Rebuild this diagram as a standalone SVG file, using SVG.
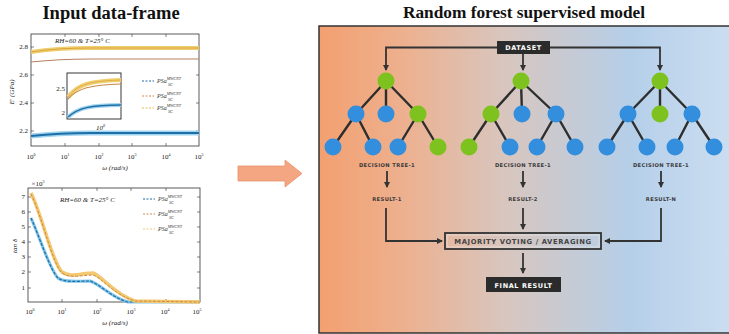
<svg xmlns="http://www.w3.org/2000/svg" width="729" height="334" viewBox="0 0 729 334">
<style>
.title{font-family:"Liberation Serif",serif;font-weight:bold;font-size:17.3px;fill:#111;text-anchor:middle}
.ax{fill:none;stroke:#333;stroke-width:0.8}
.tk{font-family:"Liberation Serif",serif;font-size:7px;fill:#222;text-anchor:middle}
.tky{font-family:"Liberation Serif",serif;font-size:7px;fill:#222;text-anchor:end}
.it{font-family:"Liberation Serif",serif;font-style:italic;font-size:7px;fill:#222}
.lg{font-family:"Liberation Serif",serif;font-style:italic;font-size:6px;fill:#333}
.sm{font-size:4px}
.edge{stroke:#2e2e2e;stroke-width:2.4;fill:none}
.g{fill:#7DC21E}
.b{fill:#338FDD}
.lbl{font-family:"DejaVu Sans",sans-serif;font-weight:bold;font-size:5.2px;fill:#3a3a3a;text-anchor:middle;letter-spacing:0.4px}
.conn{stroke:#333;stroke-width:1.8;fill:none}
.dark{fill:#2b2b2b}
.wt{font-family:"DejaVu Sans",sans-serif;font-weight:bold;font-size:6.5px;fill:#fff;text-anchor:middle;letter-spacing:0.6px}
</style>
<defs>
<linearGradient id="bg" x1="0" x2="1" y1="0" y2="0">
<stop offset="0" stop-color="#F3A070"/>
<stop offset="0.2" stop-color="#EDB08E"/>
<stop offset="0.45" stop-color="#D8C6BF"/>
<stop offset="0.75" stop-color="#B5CFE9"/>
<stop offset="1" stop-color="#CCDEF1"/>
</linearGradient>
<marker id="ah" markerWidth="6" markerHeight="6" refX="5" refY="3" orient="auto" markerUnits="userSpaceOnUse"><path d="M0,0 L6,3 L0,6 z" fill="#333"/></marker>
</defs>
<rect width="729" height="334" fill="#fff"/>

<!-- Left panel -->
<g id="input-dataframe">
<text class="title" x="111" y="19" style="font-size:18.5px">Input data-frame</text>
<!-- top plot -->
<g id="plot-top">
<rect class="ax" x="31" y="34" width="168" height="112"/>
<g stroke="#333" stroke-width="0.6">
<path d="M65 146v-3M99 146v-3M132 146v-3M166 146v-3M65 34v3M99 34v3M132 34v3M166 34v3M31 47h3M31 75h3M31 103h3M31 131h3M199 47h-3M199 75h-3M199 103h-3M199 131h-3"/>
</g>
<text class="tky" x="28" y="49">2.8</text>
<text class="tky" x="28" y="77">2.6</text>
<text class="tky" x="28" y="105">2.4</text>
<text class="tky" x="28" y="133">2.2</text>
<text class="tk" x="31" y="159">10<tspan class="sm" dy="-3">0</tspan></text>
<text class="tk" x="65" y="159">10<tspan class="sm" dy="-3">1</tspan></text>
<text class="tk" x="99" y="159">10<tspan class="sm" dy="-3">2</tspan></text>
<text class="tk" x="132" y="159">10<tspan class="sm" dy="-3">3</tspan></text>
<text class="tk" x="166" y="159">10<tspan class="sm" dy="-3">4</tspan></text>
<text class="tk" x="199" y="159">10<tspan class="sm" dy="-3">5</tspan></text>
<text class="it" x="115" y="170" text-anchor="middle">ω (rad/s)</text>
<text class="it" transform="translate(14 92) rotate(-90)" text-anchor="middle">E' (GPa)</text>
<text class="it" x="55" y="43">RH=60 &amp; T=25° C</text>
<path d="M31 52 C50 49 70 48 90 48 L199 48" stroke="#F0CF70" stroke-width="4" fill="none"/>
<path d="M31 52 C50 49 70 48 90 48 L199 48" stroke="#D9A43A" stroke-width="1" fill="none"/>
<path d="M31 62 C50 60 70 59 90 59 L199 59" stroke="#B88060" stroke-width="1.2" fill="none"/>
<path d="M31 136 C50 134 70 133 90 133 L199 133" stroke="#9FD3EE" stroke-width="5" fill="none"/>
<path d="M31 136 C50 134 70 133 90 133 L199 133" stroke="#1E6FA8" stroke-width="1.8" fill="none"/>
<text class="it" x="96" y="130">10<tspan class="sm" dy="-3">0</tspan></text>
<!-- inset -->
<rect x="67" y="73" width="54" height="46" fill="#fff" stroke="#222" stroke-width="0.9"/>
<text class="tky" x="65" y="91">2.5</text>
<text class="tky" x="65" y="115">2</text>
<path d="M68 97 C78 84 90 81 121 80" stroke="#F0CF70" stroke-width="4" fill="none"/>
<path d="M68 97 C78 84 90 81 121 80" stroke="#D9A43A" stroke-width="0.8" fill="none"/>
<path d="M68 99 C78 88 90 85 121 84" stroke="#C98848" stroke-width="1.2" fill="none"/>
<path d="M68 117 C78 108 90 105 121 105" stroke="#9FD3EE" stroke-width="4" fill="none"/>
<path d="M68 117 C78 108 90 105 121 105" stroke="#1E6FA8" stroke-width="1.5" fill="none"/>
<!-- legend -->
<path d="M142 81h12" stroke="#1E6FA8" stroke-width="1" stroke-dasharray="2 1.5"/>
<text class="lg" x="157" y="83">PSa<tspan class="sm" dy="-3.5">MWCNT</tspan><tspan class="sm" dx="-13" dy="6">SC</tspan></text>
<path d="M142 96h12" stroke="#D08A50" stroke-width="1" stroke-dasharray="2 1.5"/>
<text class="lg" x="157" y="98">PSa<tspan class="sm" dy="-3.5">MWCNT</tspan><tspan class="sm" dx="-13" dy="6">SC</tspan></text>
<path d="M142 108h12" stroke="#E0BE50" stroke-width="1" stroke-dasharray="2 1.5"/>
<text class="lg" x="157" y="110">PSa<tspan class="sm" dy="-3.5">MWCNT</tspan><tspan class="sm" dx="-13" dy="6">SC</tspan></text>
</g>

<!-- bottom plot -->
<g id="plot-bottom">
<rect class="ax" x="28" y="188" width="172" height="114"/>
<g stroke="#333" stroke-width="0.6">
<path d="M62 302v-3M97 302v-3M131 302v-3M166 302v-3M62 188v3M97 188v3M131 188v3M166 188v3M28 197h3M28 212h3M28 227h3M28 242h3M28 257h3M28 272h3M28 288h3M200 197h-3M200 212h-3M200 227h-3M200 242h-3M200 257h-3M200 272h-3M200 288h-3"/>
</g>
<text class="tky" x="25" y="199">7</text>
<text class="tky" x="25" y="214">6</text>
<text class="tky" x="25" y="229">5</text>
<text class="tky" x="25" y="244">4</text>
<text class="tky" x="25" y="259">3</text>
<text class="tky" x="25" y="274">2</text>
<text class="tky" x="25" y="290">1</text>
<text class="tk" x="38" y="186">×10<tspan class="sm" dy="-3">3</tspan></text>
<text class="tk" x="30" y="314">10<tspan class="sm" dy="-3">0</tspan></text>
<text class="tk" x="62" y="314">10<tspan class="sm" dy="-3">1</tspan></text>
<text class="tk" x="97" y="314">10<tspan class="sm" dy="-3">2</tspan></text>
<text class="tk" x="131" y="314">10<tspan class="sm" dy="-3">3</tspan></text>
<text class="tk" x="165" y="314">10<tspan class="sm" dy="-3">4</tspan></text>
<text class="tk" x="197" y="314">10<tspan class="sm" dy="-3">5</tspan></text>
<text class="it" x="115" y="325" text-anchor="middle">ω (rad/s)</text>
<text class="it" transform="translate(17 246) rotate(-90)" text-anchor="middle">tan δ</text>
<text class="it" x="60" y="202">RH=60 &amp; T=25° C</text>
<!-- curves -->
<path d="M31 218 C40 238 50 270 58 278 C64 283 80 281 90 281 C100 284 112 298 128 302 L200 302" stroke="#7EC3E8" stroke-width="3" fill="none"/>
<path d="M31 218 C40 238 50 270 58 278 C64 283 80 281 90 281 C100 284 112 298 128 302 L200 302" stroke="#1E6FA8" stroke-width="1.2" fill="none" stroke-dasharray="3 1.5"/>
<path d="M31 193 C42 215 52 262 62 272 C70 278 82 273 93 273 C102 276 114 294 135 301 L200 302" stroke="#F3C870" stroke-width="3.5" fill="none"/>
<path d="M31 194 C42 216 52 263 62 273 C70 279 82 275 93 275 C102 278 114 295 135 301 L200 302" stroke="#D08A40" stroke-width="1" fill="none" stroke-dasharray="3 1.5"/>
<!-- legend -->
<path d="M143 199h12" stroke="#1E6FA8" stroke-width="1" stroke-dasharray="2 1.5"/>
<text class="lg" x="158" y="201">PSa<tspan class="sm" dy="-3.5">MWCNT</tspan><tspan class="sm" dx="-13" dy="6">SC</tspan></text>
<path d="M143 214h12" stroke="#D08A50" stroke-width="1" stroke-dasharray="2 1.5"/>
<text class="lg" x="158" y="216">PSa<tspan class="sm" dy="-3.5">MWCNT</tspan><tspan class="sm" dx="-13" dy="6">SC</tspan></text>
<path d="M143 229h12" stroke="#E8D070" stroke-width="1" stroke-dasharray="2 1.5"/>
<text class="lg" x="158" y="231">PSa<tspan class="sm" dy="-3.5">MWCNT</tspan><tspan class="sm" dx="-13" dy="6">SC</tspan></text>
</g>
</g>

<!-- big arrow -->
<g id="transfer-arrow">
<polygon points="238,166 285,166 285,160 302,173.5 285,187 285,181 238,181" fill="#F4A582" stroke="#E8946A" stroke-width="0.8"/>
</g>

<!-- Right panel -->
<g id="rf-panel">
<text class="title" x="524" y="18">Random forest supervised model</text>
<rect x="319" y="26" width="415" height="307" fill="url(#bg)" stroke="#333" stroke-width="1.5"/>
</g>

<g id="connectors">
<path class="conn" d="M497 47.5 H386 V70" marker-end="url(#ah)"/>
<path class="conn" d="M523 54 V70" marker-end="url(#ah)"/>
<path class="conn" d="M550 47.5 H660 V70" marker-end="url(#ah)"/>
<path class="conn" d="M387 171 V187" marker-end="url(#ah)"/>
<path class="conn" d="M523 171 V187" marker-end="url(#ah)"/>
<path class="conn" d="M661 171 V187" marker-end="url(#ah)"/>
<path class="conn" d="M386 208 V241 H442" marker-end="url(#ah)"/>
<path class="conn" d="M523 208 V229" marker-end="url(#ah)"/>
<path class="conn" d="M661 208 V241 H605" marker-end="url(#ah)"/>
<path class="conn" d="M523 253 V273" marker-end="url(#ah)"/>
<!-- tree edges -->
<path class="edge" d="M386 81 L356 114 M386 81 V114 M386 81 L418 114 M356 114 L333 147 M356 114 L373 147 M418 114 L398 147 M418 114 L438 147"/>
<path class="edge" d="M521 81 L491 114 M521 81 L522 114 M521 81 L556 114 M491 114 L469 147 M491 114 L510 147 M556 114 L537 147 M556 114 L575 147"/>
<path class="edge" d="M660 81 L628 114 M660 81 V114 M660 81 L692 114 M628 114 L607 147 M628 114 L647 147 M692 114 L675 147 M692 114 L714 147"/>
</g>

<g id="dataset">
<rect class="dark" x="497" y="41" width="53" height="13"/>
<text class="wt" x="523.5" y="50">DATASET</text>
</g>

<g id="tree-1">
<circle class="g" cx="386" cy="81" r="8.5"/>
<circle class="b" cx="356" cy="114" r="8.5"/>
<circle class="b" cx="386" cy="114" r="8.5"/>
<circle class="g" cx="418" cy="114" r="8.5"/>
<circle class="b" cx="333" cy="147" r="8.5"/>
<circle class="b" cx="373" cy="147" r="8.5"/>
<circle class="b" cx="398" cy="147" r="8.5"/>
<circle class="g" cx="438" cy="147" r="8.5"/>
<text class="lbl" x="387" y="167">DECISION TREE-1</text>
</g>
<g id="tree-2">
<circle class="g" cx="521" cy="81" r="8.5"/>
<circle class="g" cx="491" cy="114" r="8.5"/>
<circle class="b" cx="522" cy="114" r="8.5"/>
<circle class="b" cx="556" cy="114" r="8.5"/>
<circle class="g" cx="469" cy="147" r="8.5"/>
<circle class="b" cx="510" cy="147" r="8.5"/>
<circle class="b" cx="537" cy="147" r="8.5"/>
<circle class="b" cx="575" cy="147" r="8.5"/>
<text class="lbl" x="523" y="167">DECISION TREE-1</text>
</g>
<g id="tree-3">
<circle class="g" cx="660" cy="81" r="8.5"/>
<circle class="b" cx="628" cy="114" r="8.5"/>
<circle class="g" cx="660" cy="114" r="8.5"/>
<circle class="b" cx="692" cy="114" r="8.5"/>
<circle class="b" cx="607" cy="147" r="8.5"/>
<circle class="b" cx="647" cy="147" r="8.5"/>
<circle class="b" cx="675" cy="147" r="8.5"/>
<circle class="b" cx="714" cy="147" r="8.5"/>
<text class="lbl" x="661" y="167">DECISION TREE-1</text>
</g>

<g id="result-1"><text class="lbl" x="387" y="201">RESULT-1</text></g>
<g id="result-2"><text class="lbl" x="523" y="201">RESULT-2</text></g>
<g id="result-n"><text class="lbl" x="661" y="201">RESULT-N</text></g>

<g id="majority">
<rect x="445" y="233" width="156" height="16" fill="none" stroke="#333" stroke-width="1.8"/>
<rect x="447" y="235" width="152" height="12" fill="none" stroke="#eee" stroke-width="0.6"/>
<text x="523" y="244" font-family="DejaVu Sans, sans-serif" font-weight="bold" font-size="6.8" fill="#444" text-anchor="middle" letter-spacing="0.6">MAJORITY VOTING / AVERAGING</text>
</g>

<g id="final-result">
<rect class="dark" x="486" y="277" width="75" height="15"/>
<text class="wt" x="523.5" y="287.5">FINAL RESULT</text>
</g>
</svg>
